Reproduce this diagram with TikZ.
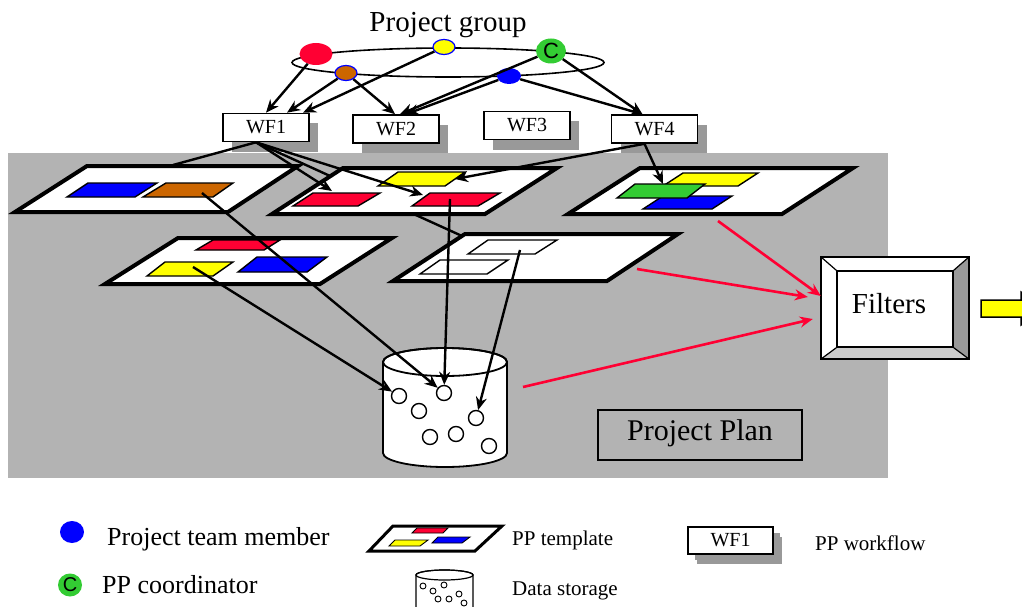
\documentclass[tikz,border=0pt]{standalone}
\usepackage{fontspec}
\setmainfont{Liberation Serif}
\newfontfamily\arialfont{Liberation Sans}
\usepackage{xcolor}
\usepackage{tikz}
\usetikzlibrary{arrows.meta,shapes.geometric,shadows}

\definecolor{ppred}{RGB}{255,0,51}
\definecolor{ppyellow}{RGB}{255,255,0}
\definecolor{ppblue}{RGB}{0,0,255}
\definecolor{ppbrown}{RGB}{204,102,0}
\definecolor{ppgreen}{RGB}{51,204,51}
\definecolor{bggray}{RGB}{179,179,179}
\definecolor{shadegray}{RGB}{153,153,153}

\tikzset{
  member/.style={ellipse,inner sep=0pt,draw=none},
  wfbox/.style={draw,fill=white,line width=1.6pt,minimum width=86pt,minimum height=28pt,inner sep=0pt,
    font=\fontsize{20}{22}\selectfont,
    drop shadow={shadow xshift=9pt,shadow yshift=-10pt,fill=shadegray,opacity=1}},
  tmpl/.style={draw,fill=white,line width=4pt,line join=miter},
  patch/.style={draw,line width=1.4pt},
  arr/.style={-{Stealth[length=13pt,width=11pt]},line width=2.4pt},
  redarr/.style={-{Stealth[length=13pt,width=11pt]},line width=2.6pt,ppred},
  dot/.style={circle,draw,fill=white,line width=1.4pt,minimum size=15pt,inner sep=0pt},
  smalldot/.style={circle,draw,fill=white,line width=0.9pt,minimum size=6pt,inner sep=0pt},
}

\begin{document}
\begin{tikzpicture}[x=1pt,y=-1pt]
\clip (0,0) rectangle (1022,607);
\fill[white] (0,0) rectangle (1022,607);
% project plan area
\fill[bggray] (8,153) rectangle (888,478);

% project group
\node[font=\fontsize{29}{30}\selectfont,anchor=base] (grouplabel) at (448,32) {Project group};
\draw[line width=1.6pt] (448,62.5) ellipse [x radius=156pt,y radius=14.5pt];
\node[member,fill=ppred,minimum width=33pt,minimum height=22pt] (red) at (316,54) {};
\node[member,fill=ppyellow,draw=ppblue,line width=1.2pt,minimum width=22pt,minimum height=15pt] (yellow) at (444,47) {};
\node[member,fill=ppgreen,minimum width=30pt,minimum height=25pt,font=\arialfont\fontsize{22}{22}\selectfont] (coord) at (551,51) {C};
\node[member,fill=ppbrown,draw=ppblue,line width=1.2pt,minimum width=22pt,minimum height=15pt] (brown) at (346,73) {};
\node[member,fill=ppblue,minimum width=24pt,minimum height=16pt] (blue) at (509,76) {};

% workflows
\node[wfbox] (wf1) at (266,127.5) {WF1};
\node[wfbox] (wf2) at (396,129) {WF2};
\node[wfbox] (wf3) at (527,125.5) {WF3};
\node[wfbox] (wf4) at (654.5,129) {WF4};

\draw[arr] (red) -- (wf1.north);
\draw[arr] (brown) -- ([xshift=21pt]wf1.north);
\draw[arr] (yellow) -- ([xshift=37pt]wf1.north);
\draw[arr] (brown) -- ([xshift=-1pt]wf2.north);
\draw[arr] (coord) -- ([xshift=4pt]wf2.north);
\draw[arr] (blue) -- ([xshift=10pt]wf2.north);
\draw[arr] (coord) -- ([xshift=-12pt]wf4.north);
\draw[arr] (blue) -- ([xshift=-12pt]wf4.north);

% lines that run under the templates
\coordinate (onecorner) at (173,165);
\coordinate (fivecorner) at (462,236);
\draw[line width=2.4pt] ([xshift=-10pt]wf1.south) -- (onecorner);
\draw[line width=2.4pt] ([xshift=-10pt]wf1.south) -- (fivecorner);

% templates
\draw[tmpl] (87,166) -- (298,166) -- (228,212) -- (15,212) -- cycle;
\draw[patch,fill=ppblue] (88,183) -- (157,183) -- (135,197) -- (67,197) -- cycle;
\draw[patch,fill=ppbrown] (166,183) -- (233,183) -- (213,197) -- (143,197) -- cycle;

\draw[tmpl] (343,168) -- (557,168) -- (485,214) -- (272,214) -- cycle;
\draw[patch,fill=ppyellow] (398,172) -- (465,172) -- (445,186) -- (378,186) -- cycle;
\draw[patch,fill=ppred] (313,193) -- (380,193) -- (358,206) -- (293,206) -- cycle;
\draw[patch,fill=ppred] (430,193) -- (500,193) -- (478,206) -- (412,206) -- cycle;

\draw[tmpl] (640,168) -- (853,168) -- (782,214) -- (568,214) -- cycle;
\draw[patch,fill=ppyellow] (683,173) -- (758,173) -- (738,186) -- (663,186) -- cycle;
\draw[patch,fill=ppblue] (663,196) -- (732,196) -- (712,209) -- (643,209) -- cycle;
\draw[patch,fill=ppgreen] (635,184) -- (705,184) -- (687,198) -- (617,198) -- cycle;

\draw[tmpl] (178,238) -- (392,238) -- (320,284) -- (105,284) -- cycle;
\draw[patch,fill=ppred] (213,240) -- (280,240) -- (264,250) -- (196,250) -- cycle;
\draw[patch,fill=ppyellow] (165,262) -- (233,262) -- (213,276) -- (147,276) -- cycle;
\draw[patch,fill=ppblue] (257,257) -- (327,257) -- (307,272) -- (238,272) -- cycle;

\draw[tmpl] (465,234) -- (678,234) -- (607,281) -- (393,281) -- cycle;
\draw[patch,fill=white] (488,240) -- (557,240) -- (535,254) -- (468,254) -- cycle;
\draw[patch,fill=white] (440,260) -- (508,260) -- (487,274) -- (420,274) -- cycle;

% workflow arrows onto the templates
\coordinate (tworedone) at (332,191);
\coordinate (tworedtwo) at (423,195);
\coordinate (twoyellow) at (455,179);
\coordinate (threegreen) at (663,184);
\draw[arr] ([xshift=-10pt]wf1.south) -- (tworedone);
\draw[arr] ([xshift=-10pt]wf1.south) -- (tworedtwo);
\draw[arr] ([xshift=-10pt]wf4.south) -- (twoyellow);
\draw[arr] ([xshift=-10pt]wf4.south) -- (threegreen);

% data storage
\draw[fill=white,line width=1.8pt] (383,362) -- (383,453)
  arc[start angle=180,end angle=360,x radius=62pt,y radius=14pt] -- (507,362)
  arc[start angle=0,end angle=180,x radius=62pt,y radius=14pt] -- cycle;
\draw[line width=1.8pt] (445,362) ellipse [x radius=62pt,y radius=14pt];
\node[dot] (d1) at (399,396) {};
\node[dot] (d2) at (444,393) {};
\node[dot] (d3) at (419,411) {};
\node[dot] (d4) at (476,418) {};
\node[dot] (d5) at (430,437) {};
\node[dot] (d6) at (456,434) {};
\node[dot] (d7) at (489,446) {};

\coordinate (onebrown) at (202,193);
\coordinate (fouryellow) at (193,267);
\coordinate (tworedmid) at (450,199);
\coordinate (fivewhite) at (520,250);
\draw[arr] (onebrown) -- (d2);
\draw[arr] (fouryellow) -- (d1);
\draw[arr] (tworedmid) -- (d2);
\draw[arr] (fivewhite) -- (d4);

% filters
\node[fill=white,minimum width=148pt,minimum height=102pt,inner sep=0pt] (filters) at (895,308) {};
\fill[shadegray] (filters.north east) -- ([xshift=-16pt,yshift=-14pt]filters.north east)
  -- ([xshift=-16pt,yshift=12pt]filters.south east) -- (filters.south east) -- cycle;
\fill[black!20] (filters.south west) -- ([xshift=16pt,yshift=12pt]filters.south west)
  -- ([xshift=-16pt,yshift=12pt]filters.south east) -- (filters.south east) -- cycle;
\node[draw,line width=1.5pt,minimum width=116pt,minimum height=76pt,inner sep=0pt] (filterin) at (895,309) {};
\draw[line width=1.8pt] (filters.north west) rectangle (filters.south east);
\draw[line width=1.2pt] (filters.north west) -- (filterin.north west);
\draw[line width=1.2pt] (filters.north east) -- (filterin.north east);
\draw[line width=1.2pt] (filters.south west) -- (filterin.south west);
\draw[line width=1.2pt] (filters.south east) -- (filterin.south east);
\node[font=\fontsize{29}{30}\selectfont,anchor=base] (filterlabel) at (889,313) {Filters};

\coordinate (threeout) at (718,221);
\coordinate (fiveout) at (637,269);
\coordinate (storeout) at (523,387);
\draw[redarr] (threeout) -- ([yshift=12pt]filters.west);
\draw[redarr] (fiveout) -- ([xshift=-13pt,yshift=11pt]filters.west);
\draw[redarr] (storeout) -- ([xshift=-8pt,yshift=-11pt]filters.west);

% output arrow
\draw[fill=ppyellow,line width=1.5pt] (981,300) -- (1021,300) -- (1021,292) -- (1045,308)
  -- (1021,325) -- (1021,317) -- (981,317) -- cycle;

% project plan
\node[draw,line width=1.5pt,minimum width=204pt,minimum height=50pt,inner sep=0pt] (plan) at (700,435) {};
\node[font=\fontsize{30}{31}\selectfont,anchor=base] (planlabel) at (700,440) {Project Plan};

% legend
\node[member,fill=ppblue,minimum width=24pt,minimum height=22pt] (keymember) at (72,532) {};
\node[font=\fontsize{26}{27}\selectfont,anchor=base west,inner sep=0pt] (keymembertext) at (107,545) {Project team member};
\node[member,fill=ppgreen,minimum width=24pt,minimum height=23pt,font=\arialfont\fontsize{20}{20}\selectfont] (keycoord) at (70,585) {C};
\node[font=\fontsize{26}{27}\selectfont,anchor=base west,inner sep=0pt] (keycoordtext) at (102,593) {PP coordinator};

\draw[tmpl,line width=3pt] (393,526) -- (502,526) -- (475,551) -- (369,551) -- cycle;
\draw[patch,line width=0.9pt,fill=ppred] (417,528) -- (448,528) -- (443,533) -- (412,533) -- cycle;
\draw[patch,line width=0.9pt,fill=ppyellow] (395,540) -- (428,540) -- (420,546) -- (389,546) -- cycle;
\draw[patch,line width=0.9pt,fill=ppblue] (438,537) -- (470,537) -- (462,543) -- (432,543) -- cycle;
\node[font=\fontsize{21}{22}\selectfont,anchor=base west,inner sep=0pt] (keytmpltext) at (512,545) {PP template};

\draw[fill=white,line width=1.2pt] (416,575) -- (416,620) -- (473,620) -- (473,575)
  arc[start angle=0,end angle=180,x radius=28.5pt,y radius=5pt] -- cycle;
\draw[line width=1.2pt] (444.5,575) ellipse [x radius=28.5pt,y radius=5pt];
\node[smalldot] (k1) at (423,586) {};
\node[smalldot] (k2) at (433,591) {};
\node[smalldot] (k3) at (444,585) {};
\node[smalldot] (k4) at (438,599) {};
\node[smalldot] (k5) at (449,599) {};
\node[smalldot] (k6) at (459,594) {};
\node[smalldot] (k7) at (464,603) {};
\node[font=\fontsize{21}{22}\selectfont,anchor=base west,inner sep=0pt] (keystoretext) at (512,595) {Data storage};

\node[wfbox,minimum width=85pt,minimum height=27pt,drop shadow={shadow xshift=7pt,shadow yshift=-6pt,fill=shadegray,opacity=1}] (keywf) at (730.5,540.5) {WF1};
\node[font=\fontsize{21}{22}\selectfont,anchor=base west,inner sep=0pt] (keywftext) at (815,550) {PP workflow};
\end{tikzpicture}
\end{document}
